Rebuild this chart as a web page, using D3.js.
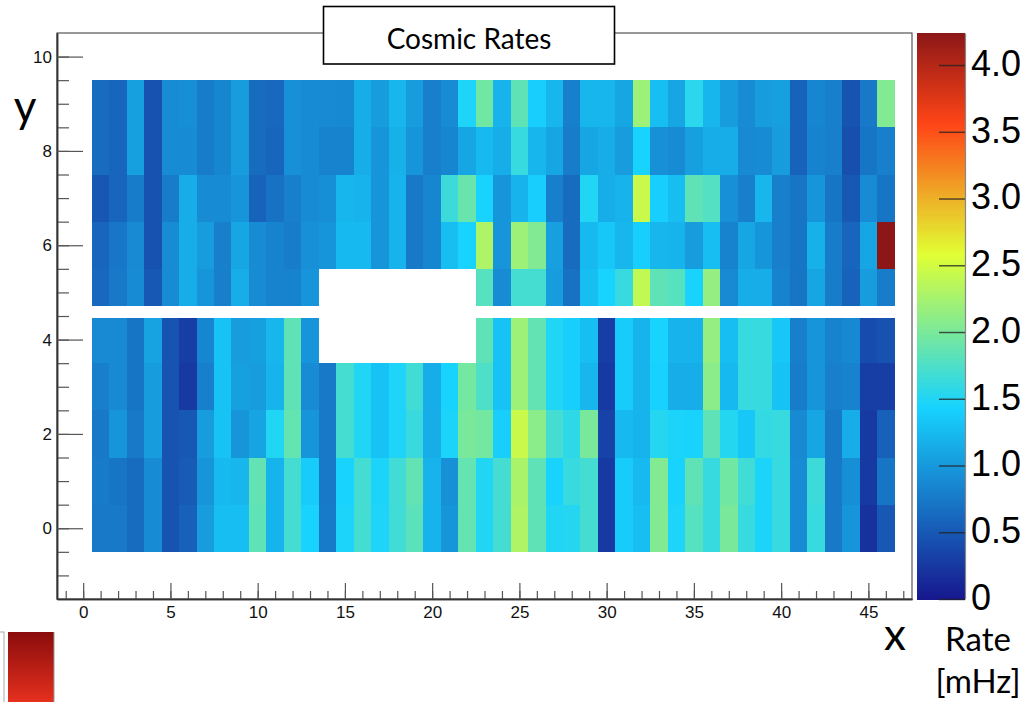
<!DOCTYPE html>
<html><head><meta charset="utf-8">
<script src="https://cdn.jsdelivr.net/npm/d3@7"></script>
<style>
html,body{margin:0;padding:0;background:#fff;}
svg{display:block;}
.tick text{font-family:"Liberation Sans",Arial,sans-serif;}
</style></head><body>
<svg id="chart" width="1032" height="702"></svg>
<script>
// Histogram binning: 46 channels along x, 10 layers along y
const xChannels = d3.range(1, 47);
const yLayers = [0, 1, 2, 3, 4, 5, 6, 7, 8, 9];
const yBinLow  = [-0.5, 0.5, 1.5, 2.5, 3.5, 4.72, 5.5, 6.5, 7.5, 8.5];
const yBinHigh = [ 0.5, 1.5, 2.5, 3.5, 4.45, 5.5, 6.5, 7.5, 8.5, 9.5];

// Cosmic rate per channel [mHz], one array per layer (null = no entry)
const rateY0 = [0.75,0.75,0.65,0.9,0.47,0.57,1.02,1.28,1.28,1.85, 1.2,1.7,1.45,0.77,1.47,1.7,1.48,1.68,1.83,1.2, 0.97,1.88,1.5,1.7,2.3,1.85,1.5,1.52,1.7,0.27, 1.38,1.28,2.05,1.48,1.8,1.62,2.0,1.62,1.47,1.62, 0.9,1.62,0.75,0.97,0.2,0.5];
const rateY1 = [0.77,0.72,0.65,0.9,0.47,0.52,0.97,1.25,1.22,1.87, 1.2,1.7,1.38,0.75,1.45,1.7,1.47,1.68,1.87,1.2, 0.93,1.88,1.5,1.7,2.27,1.85,1.45,1.62,1.7,0.27, 1.38,1.25,2.05,1.45,1.85,1.62,1.95,1.68,1.47,1.62, 0.9,1.65,0.75,0.92,0.27,0.72];
const rateY2 = [0.75,0.97,0.75,1.02,0.47,0.5,1.02,1.32,0.97,1.08, 1.5,1.88,0.97,0.75,1.7,1.5,1.32,1.48,1.63,1.15, 1.47,2.0,1.97,1.4,2.45,2.1,1.7,1.58,2.0,0.33, 1.25,1.2,1.52,1.47,1.45,1.85,1.52,1.35,1.6,1.62, 0.88,1.1,0.75,1.15,0.27,0.57];
const rateY3 = [0.8,0.88,0.72,1.02,0.47,0.27,0.8,1.32,1.05,1.02, 1.2,1.85,0.9,0.75,1.7,1.5,1.32,1.48,1.68,1.15, 1.45,1.97,1.75,1.32,2.2,1.87,1.5,1.4,1.22,0.27, 1.38,1.2,1.43,1.15,1.15,2.1,1.25,1.62,1.62,1.32, 0.78,0.97,0.8,0.82,0.3,0.3];
const rateY4 = [0.88,0.88,0.72,1.07,0.47,0.3,0.85,1.32,1.03,1.05, 1.22,1.85,0.97,null,null,null,null,null,null,null, null,null,1.85,1.32,2.2,1.87,1.5,1.4,1.28,0.3, 1.38,1.2,1.45,1.2,1.2,2.15,1.28,1.62,1.62,1.35, 0.8,0.97,0.83,0.87,0.4,0.45];
const rateY5 = [0.62,0.75,0.9,0.5,0.9,1.15,0.97,0.8,1.15,0.9, 0.83,0.83,0.97,null,null,null,null,null,null,null, null,null,1.8,0.9,1.7,1.7,1.02,0.7,1.28,1.45, 1.62,2.4,1.85,1.8,1.45,2.15,0.88,1.15,1.15,0.83, 0.72,1.1,0.78,0.58,1.02,0.78];
const rateY6 = [0.6,0.73,0.88,0.45,0.9,1.15,1.02,0.8,1.1,0.9, 0.83,0.78,0.93,0.97,1.25,1.25,0.97,1.2,0.75,0.85, 1.28,1.45,2.3,0.97,2.2,2.05,1.05,0.65,1.25,1.35, 1.22,1.4,1.22,1.2,1.02,1.28,0.83,1.1,0.97,0.8, 0.72,1.18,0.78,0.6,1.1,4.24];
const rateY7 = [0.48,0.6,0.78,0.45,0.78,1.15,0.9,0.9,0.97,0.58, 0.7,0.8,0.9,0.92,1.22,1.2,0.97,1.2,0.75,0.85, 1.65,1.9,1.45,0.97,1.2,1.4,0.8,0.65,1.5,1.15, 1.2,2.45,1.4,1.28,1.85,1.78,0.93,0.8,1.22,0.8, 0.72,0.97,0.72,0.5,0.9,0.72];
const rateY8 = [0.65,0.6,1.05,0.45,0.9,0.9,0.78,0.85,1.02,0.65, 0.6,0.93,0.9,0.83,0.83,1.15,0.97,1.18,0.97,0.8, 0.85,1.1,1.25,1.15,1.62,1.22,1.1,0.78,1.1,1.15, 1.03,1.45,0.93,0.9,1.05,1.15,1.15,0.88,0.9,1.02, 0.58,0.83,0.8,0.43,0.72,0.8];
const rateY9 = [0.65,0.6,1.05,0.45,0.9,0.92,0.78,0.85,1.02,0.65, 0.62,0.93,0.9,0.88,0.87,1.15,1.03,1.22,1.02,0.8, 0.9,1.48,1.95,1.2,1.85,1.4,1.22,0.8,1.22,1.22, 1.1,2.2,1.28,1.1,1.55,1.22,1.03,0.9,1.02,1.05, 0.58,0.85,0.8,0.47,0.75,2.05];

// Axis tick values
const xMajorTicks = [0, 5, 10, 15, 20, 25, 30, 35, 40, 45];
const yMajorTicks = [0, 2, 4, 6, 8, 10];
const zTicks = [0, 0.5, 1.0, 1.5, 2.0, 2.5, 3.0, 3.5, 4.0];

const rateRows = [rateY0, rateY1, rateY2, rateY3, rateY4, rateY5, rateY6, rateY7, rateY8, rateY9];

const svg = d3.select("#chart");

// Frame geometry
const F = {left: 57, right: 912, top: 33, bottom: 599};
const x = d3.scaleLinear().domain([-1.5, 47.5]).range([F.left, F.right]);
const y = d3.scaleLinear().domain([-1.5, 10.5]).range([F.bottom, F.top]);

// Rainbow palette (stops 0, .34, .61, .84, 1 of the z range)
const zMax = d3.max(rateRows.flat().filter(v => v != null));
const paletteStops = [0, 0.34, 0.61, 0.84, 1.0];
const paletteCols = ["#000082", "#00cfff", "#deff1f", "#ff3300", "#820000"]
  .map(c => d3.interpolateRgb(c, "#ffffff")(0.09));
const color = d3.scaleLinear()
  .domain(paletteStops.map(s => s * zMax))
  .range(paletteCols)
  .interpolate(d3.interpolateRgb)
  .clamp(true);

// Cells
const cells = [];
yLayers.forEach((ly, j) => {
  xChannels.forEach((ch, i) => {
    const v = rateRows[j][i];
    if (v != null) cells.push({ch, j, v});
  });
});
svg.append("g").attr("shape-rendering", "crispEdges")
  .selectAll("rect").data(cells).join("rect")
  .attr("x", d => x(d.ch - 0.5))
  .attr("y", d => y(yBinHigh[d.j]))
  .attr("width", d => x(d.ch + 0.5) - x(d.ch - 0.5))
  .attr("height", d => y(yBinLow[d.j]) - y(yBinHigh[d.j]))
  .attr("fill", d => color(d.v));

// Frame
svg.append("rect")
  .attr("x", F.left).attr("y", F.top)
  .attr("width", F.right - F.left).attr("height", F.bottom - F.top)
  .attr("fill", "none").attr("stroke", "#555").attr("stroke-width", 1.2);

// X axis: major + minor ticks pointing into the frame
const gx = svg.append("g").attr("transform", `translate(0,${F.bottom})`);
gx.call(d3.axisBottom(x).tickValues(d3.range(-1, 48)).tickSizeInner(-8).tickSizeOuter(0).tickFormat(""));
gx.append("g").call(d3.axisBottom(x).tickValues(xMajorTicks).tickSizeInner(-16).tickSizeOuter(0).tickPadding(7));
gx.selectAll("path.domain").attr("stroke", "#333").attr("stroke-width", 1.5);
gx.selectAll(".tick line").attr("stroke", "#555").attr("stroke-width", 1.2);
gx.selectAll(".tick text").attr("font-size", 17).attr("fill", "#111");

// Y axis
const gy = svg.append("g").attr("transform", `translate(${F.left},0)`);
gy.call(d3.axisLeft(y).tickValues(d3.range(-1, 10.5, 0.5)).tickSizeInner(-12).tickSizeOuter(0).tickFormat(""));
gy.append("g").call(d3.axisLeft(y).tickValues(yMajorTicks).tickSizeInner(-26).tickSizeOuter(0).tickPadding(5));
gy.selectAll("path.domain").attr("stroke", "#333").attr("stroke-width", 1.5);
gy.selectAll(".tick line").attr("stroke", "#555").attr("stroke-width", 1.2);
gy.selectAll(".tick text").attr("font-size", 17).attr("fill", "#111");

// Colour bar
const CB = {left: 917, right: 965};
const z = d3.scaleLinear().domain([0, zMax]).range([F.bottom, F.top]);
const nSteps = 280;
const cbData = d3.range(nSteps).map(k => zMax * k / nSteps);
svg.append("g").attr("shape-rendering", "crispEdges")
  .selectAll("rect").data(cbData).join("rect")
  .attr("x", CB.left).attr("width", CB.right - CB.left)
  .attr("y", d => z(d + zMax / nSteps))
  .attr("height", d => z(d) - z(d + zMax / nSteps) + 0.6)
  .attr("fill", d => color(d + zMax / nSteps / 2));
const gz = svg.append("g").attr("transform", `translate(${CB.right},0)`);
gz.call(d3.axisRight(z).tickValues(zTicks).tickSizeInner(-26).tickSizeOuter(0).tickPadding(6)
  .tickFormat(d => d === 0 ? "0" : d.toFixed(1)));
gz.selectAll("path.domain").attr("stroke", "#888").attr("stroke-width", 1.2);
gz.selectAll(".tick line").attr("stroke", "#222").attr("stroke-opacity", 0.75).attr("stroke-width", 1.5);
gz.selectAll(".tick text").attr("font-family", "Lato, 'Open Sans', sans-serif")
  .attr("font-size", 36).attr("fill", "#000").attr("dy", "0.29em");

// Title box
svg.append("rect").attr("x", 323.5).attr("y", 6.5).attr("width", 291).attr("height", 57.5)
  .attr("fill", "#fff").attr("stroke", "#000").attr("stroke-width", 1.6);
svg.append("text").attr("x", 469).attr("y", 49).attr("text-anchor", "middle")
  .attr("font-family", "Lato, 'Open Sans', sans-serif").attr("font-size", 28).attr("fill", "#000")
  .text("Cosmic Rates");

// Axis titles
const big = "Lato, 'Open Sans', sans-serif";
svg.append("text").attr("x", 25).attr("y", 122).attr("text-anchor", "middle")
  .attr("font-family", big).attr("font-size", 44).text("y");
svg.append("text").attr("x", 895).attr("y", 650).attr("text-anchor", "middle")
  .attr("font-family", big).attr("font-size", 44).text("x");
svg.append("text").attr("x", 978).attr("y", 651).attr("text-anchor", "middle")
  .attr("font-family", big).attr("font-size", 33).text("Rate");
svg.append("text").attr("x", 978).attr("y", 693).attr("text-anchor", "middle")
  .attr("font-family", big).attr("font-size", 33).text("[mHz]");

// Neighbouring panel edge (lower left)
const grad = svg.append("defs").append("linearGradient").attr("id", "redbar")
  .attr("x1", 0).attr("y1", 0).attr("x2", 0).attr("y2", 1);
grad.append("stop").attr("offset", 0).attr("stop-color", "#8a0c0c");
grad.append("stop").attr("offset", 1).attr("stop-color", "#e8311f");
svg.append("rect").attr("x", 8).attr("y", 632).attr("width", 46).attr("height", 72).attr("fill", "url(#redbar)");
svg.append("line").attr("x1", 54).attr("x2", 54).attr("y1", 632).attr("y2", 702).attr("stroke", "#999");
svg.append("rect").attr("x", -2).attr("y", 632).attr("width", 6).attr("height", 74)
  .attr("fill", "none").attr("stroke", "#aaa");
</script>
</body></html>
